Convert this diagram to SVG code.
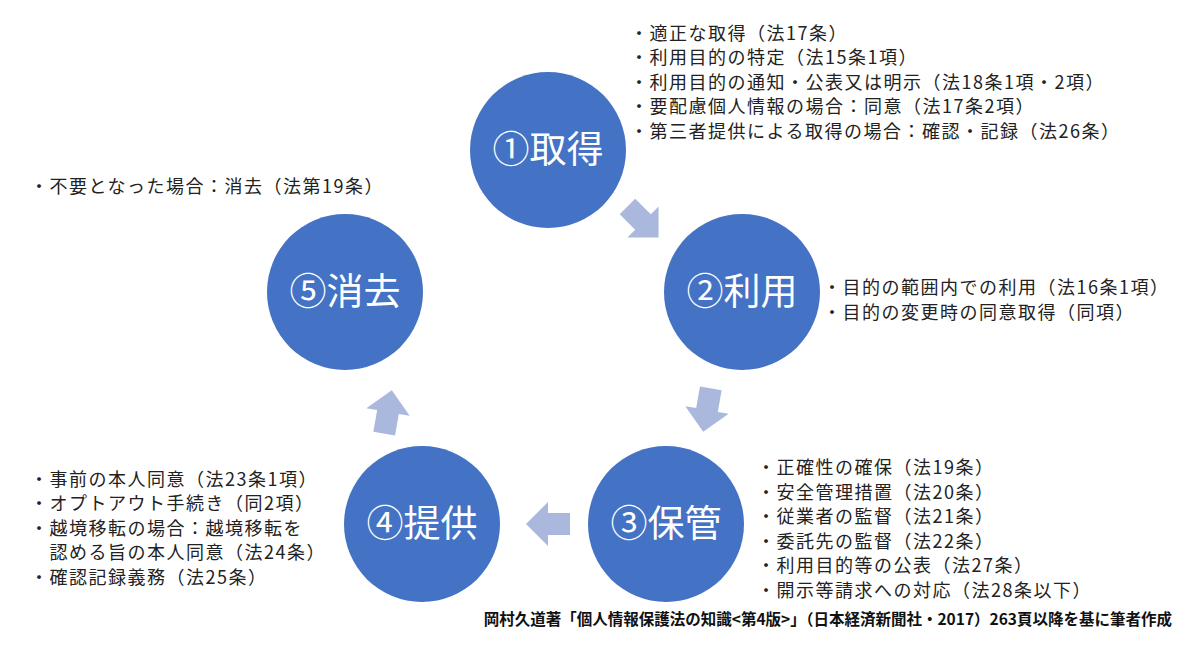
<svg xmlns="http://www.w3.org/2000/svg" width="1200" height="666" viewBox="0 0 1200 666">
<style>
.c{fill:#4472C4}
.l{fill:#fff;font-family:"Noto Sans CJK JP","Noto Sans",sans-serif;font-size:37px;text-anchor:middle}
.t{fill:#222;font-family:"Noto Sans CJK JP","Noto Sans",sans-serif;font-size:18px;letter-spacing:1.5px}
.a{fill:#A9B8DC}
.f{fill:#111;font-family:"Noto Sans CJK JP","Noto Sans",sans-serif;font-size:15.5px;font-weight:bold;text-anchor:end}
</style>
<defs><path id="ar" d="M-22,0 L0,-22 L0,-11 L22,-11 L22,11 L0,11 L0,22 Z"/></defs>
<rect width="1200" height="666" fill="#fff"/>
<g id="connectors">
<use href="#ar" class="a" transform="translate(643,222) rotate(225)"/>
<use href="#ar" class="a" transform="translate(707,410) rotate(-80)"/>
<use href="#ar" class="a" transform="translate(548,524)"/>
<use href="#ar" class="a" transform="translate(388,412) rotate(100)"/>
</g>
<g id="n1"><circle class="c" cx="548" cy="150" r="78"/><text class="l" x="548" y="163">①取得</text></g>
<g id="n2"><circle class="c" cx="742" cy="292" r="78"/><text class="l" x="742" y="305">②利用</text></g>
<g id="n3"><circle class="c" cx="666" cy="524" r="78"/><text class="l" x="666" y="537">③保管</text></g>
<g id="n4"><circle class="c" cx="422" cy="524" r="78"/><text class="l" x="422" y="537">④提供</text></g>
<g id="n5"><circle class="c" cx="345" cy="292" r="78"/><text class="l" x="345" y="305">⑤消去</text></g>
<g id="t1" class="t">
<text x="630" y="40">・適正な取得（法17条）</text>
<text x="630" y="64">・利用目的の特定（法15条1項）</text>
<text x="630" y="89">・利用目的の通知・公表又は明示（法18条1項・2項）</text>
<text x="630" y="113">・要配慮個人情報の場合：同意（法17条2項）</text>
<text x="630" y="138">・第三者提供による取得の場合：確認・記録（法26条）</text>
</g>
<g id="t2" class="t">
<text x="823" y="294">・目的の範囲内での利用（法16条1項）</text>
<text x="823" y="319">・目的の変更時の同意取得（同項）</text>
</g>
<g id="t3" class="t">
<text x="757" y="474">・正確性の確保（法19条）</text>
<text x="757" y="499">・安全管理措置（法20条）</text>
<text x="757" y="523">・従業者の監督（法21条）</text>
<text x="757" y="548">・委託先の監督（法22条）</text>
<text x="757" y="572">・利用目的等の公表（法27条）</text>
<text x="757" y="597">・開示等請求への対応（法28条以下）</text>
</g>
<g id="t4" class="t">
<text x="30" y="486">・事前の本人同意（法23条1項）</text>
<text x="30" y="510">・オプトアウト手続き（同2項）</text>
<text x="30" y="535">・越境移転の場合：越境移転を</text>
<text x="30" y="559">　認める旨の本人同意（法24条）</text>
<text x="30" y="584">・確認記録義務（法25条）</text>
</g>
<g id="t5" class="t"><text x="30" y="193">・不要となった場合：消去（法第19条）</text></g>
<text class="f" x="1172" y="625">岡村久道著「個人情報保護法の知識&lt;第4版&gt;」（日本経済新聞社・2017）263頁以降を基に筆者作成</text>
</svg>
